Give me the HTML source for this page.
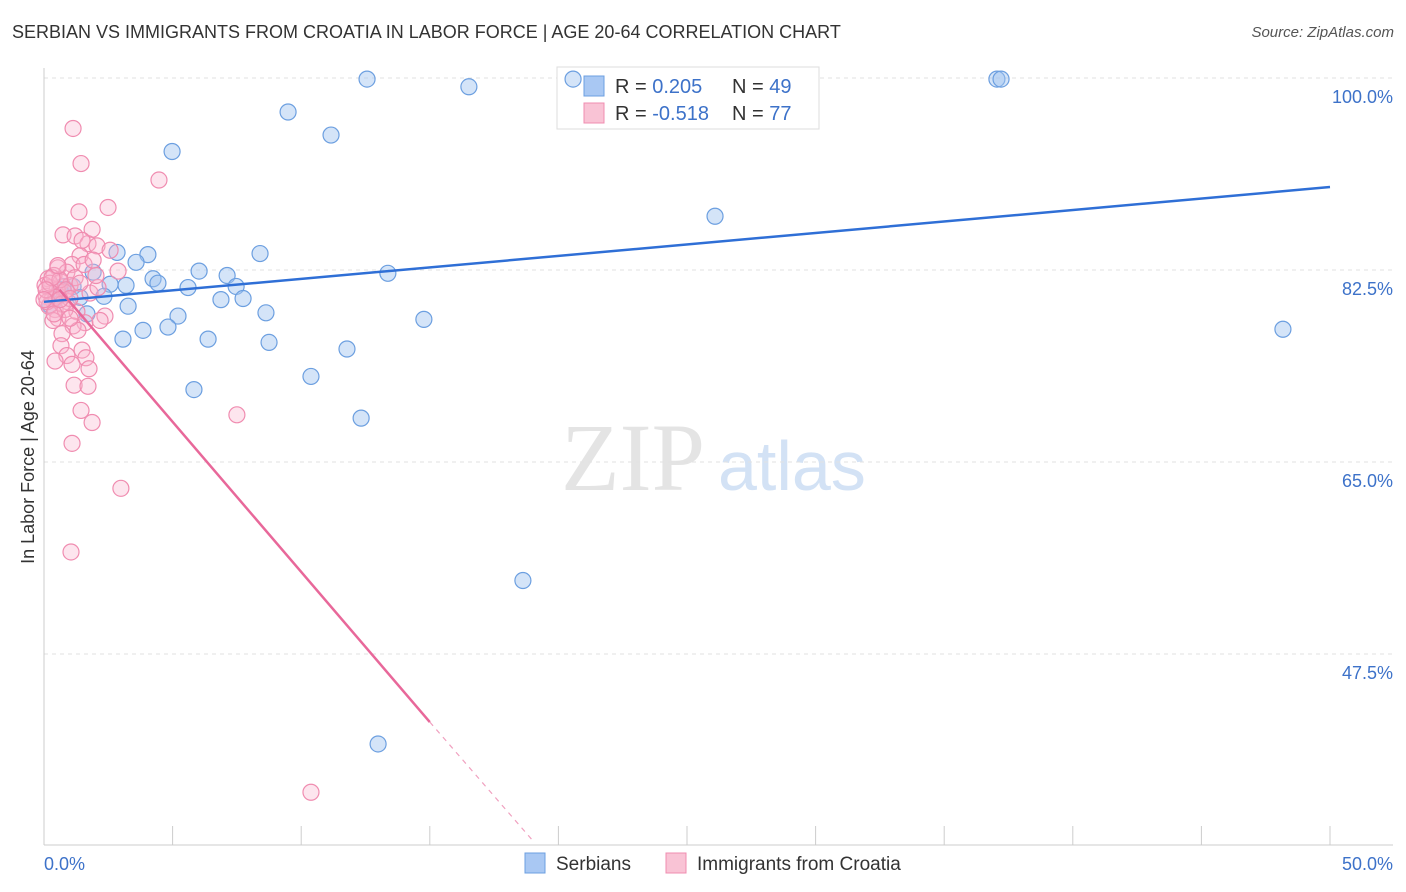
<!DOCTYPE html>
<html><head><meta charset="utf-8">
<style>
body{margin:0;background:#fff;font-family:"Liberation Sans",sans-serif;}
#wrap{position:relative;width:1406px;height:892px;overflow:hidden;}
.t{position:absolute;white-space:nowrap;}
</style></head>
<body>
<div id="wrap">
<div class="t" style="left:12px;top:22px;font-size:18px;color:#333;">SERBIAN VS IMMIGRANTS FROM CROATIA IN LABOR FORCE | AGE 20-64 CORRELATION CHART</div>
<div class="t" style="right:12px;top:24px;font-size:15px;color:#555;font-style:italic;">Source: ZipAtlas.com</div>
<svg id="svg" width="1406" height="892" style="position:absolute;left:0;top:0;"></svg>
</div>
<script>
const yTicks=[100,82.5,65,47.5];
const yTickLabels=["100.0%","82.5%","65.0%","47.5%"];
const xTickVals=[0,5,10,15,20,25,30,35,40,45,50];
const blueX=[12.56,16.52,20.57,37.05,37.21,9.49,11.16,4.98,26.09,2.84,4.04,8.40,3.58,1.91,6.03,13.37,4.24,7.12,4.43,7.47,5.60,2.57,3.19,1.13,0.74,2.33,1.40,6.88,7.74,3.27,8.63,5.21,1.67,14.77,48.17,3.85,4.82,3.07,6.38,8.75,11.78,10.38,5.83,12.33,18.62,12.99,0.43,0.62,0.23];
const blueY=[99.9,99.2,99.9,99.9,99.9,96.9,94.8,93.3,87.4,84.1,83.9,84.0,83.2,82.3,82.4,82.2,81.7,82.0,81.3,81.0,80.9,81.2,81.1,81.0,81.0,80.1,80.0,79.8,79.9,79.2,78.6,78.3,78.5,78.0,77.1,77.0,77.3,76.2,76.2,75.9,75.3,72.8,71.6,69.0,54.2,39.3,79.8,80.7,79.3];
const pinkX=[1.13,1.44,4.47,2.49,1.36,1.87,0.74,1.21,1.71,2.06,1.40,1.09,0.54,2.88,0.89,0.39,0.16,0.66,1.01,0.23,0.51,0.78,0.08,0.31,0.93,0.19,0.43,1.28,2.37,0.54,0.35,1.59,1.13,0.70,1.32,0.66,1.48,0.89,1.63,0.43,1.09,1.75,1.17,1.71,1.44,7.50,1.87,1.09,2.99,1.05,10.38,0.04,0.23,0.62,0.86,0.47,0.12,0.70,1.01,1.79,2.10,1.21,1.40,0.82,2.18,1.56,2.02,2.57,0.31,0.54,0.08,1.01,0.39,1.91,0.62,1.48,0.0];
const pinkY=[95.4,92.2,90.7,88.2,87.8,86.2,85.7,85.6,84.9,84.7,83.8,83.0,82.7,82.4,82.3,82.0,81.7,81.4,81.1,80.9,80.7,80.5,80.1,79.8,79.6,79.2,78.9,78.7,78.3,78.1,77.9,77.7,77.4,76.7,77.0,75.6,75.2,74.7,74.5,74.2,73.9,73.5,72.0,71.9,69.7,69.3,68.6,66.7,62.6,56.8,34.9,81.1,81.3,81.6,80.7,80.0,79.6,79.4,79.9,80.4,80.9,81.8,81.3,78.9,77.9,83.0,82.0,84.3,81.8,82.9,80.7,78.1,78.5,83.4,79.8,85.2,79.8];
const blueTrend=[[0,79.6],[50,90.06]];
const pinkTrend=[[0.6,80.7],[15,41.3]];
const pinkTrendDash=[[15,41.3],[19,30.5]];

const NS="http://www.w3.org/2000/svg";
const svg=document.getElementById('svg');
const X=v=>44+v/50*1286;
const Y=v=>78+(100-v)/17.5*192;
function mk(t,a){const e=document.createElementNS(NS,t);for(const k in a)e.setAttribute(k,a[k]);svg.appendChild(e);return e;}
let w1=mk('text',{x:633,y:490,'font-size':96,'font-family':'Liberation Serif, serif',fill:'#e4e4e4','text-anchor':'middle'});w1.textContent='ZIP';


let w2=mk('text',{x:718,y:490,'font-size':70,'font-family':'Liberation Sans, sans-serif',fill:'#d3e2f5'});w2.textContent='atlas';


yTicks.forEach((v,i)=>{
 let g=mk('line',{x1:44,x2:1393,y1:Y(v),y2:Y(v),stroke:'#e2e2e2','stroke-dasharray':'4,4'});
 
 
 let t=mk('text',{x:1393,y:Y(v)+25,'font-size':18,fill:'#3d72c9','text-anchor':'end'});t.textContent=yTickLabels[i];
 
 
});
let ax=mk('line',{x1:44,x2:44,y1:68,y2:845,stroke:'#ccc'});


let bx=mk('line',{x1:44,x2:1393,y1:845,y2:845,stroke:'#ccc'});


xTickVals.forEach(v=>{let l=mk('line',{x1:X(v),x2:X(v),y1:826,y2:845,stroke:'#ccc'});
 
 });
let xl0=mk('text',{x:44,y:870,'font-size':18,fill:'#3d72c9'});xl0.textContent='0.0%';


let xl1=mk('text',{x:1393,y:870,'font-size':18,fill:'#3d72c9','text-anchor':'end'});xl1.textContent='50.0%';


let yt=mk('text',{x:34,y:457,'font-size':18,fill:'#333','text-anchor':'middle',transform:'rotate(-90 34 457)'});yt.textContent='In Labor Force | Age 20-64';


// top legend (drawn before points)
let lb=mk('rect',{x:557,y:67,width:262,height:62,fill:'#fff',stroke:'#ddd'});


[[0,'#a9c8f3','#6c9fe0','0.205','49'],[1,'#f9c3d5','#f08cb0','-0.518','77']].forEach(r=>{
 const y=76+r[0]*27;
 let s=mk('rect',{x:584,y:y,width:20,height:20,fill:r[1],stroke:r[2]});
 
 
 let t=mk('text',{x:615,y:y+17,'font-size':20,fill:'#333'});
 t.innerHTML='R = <tspan fill="#3d72c9"> '+r[3]+'</tspan><tspan x="732">N = </tspan><tspan fill="#3d72c9">'+r[4]+'</tspan>';
 
 
});
blueX.forEach((v,i)=>{let c=mk('circle',{cx:X(v),cy:Y(blueY[i]),r:8,fill:'rgba(160,195,240,0.45)',stroke:'#6c9fe0','stroke-width':1.2});
 
 });
pinkX.forEach((v,i)=>{let c=mk('circle',{cx:X(v),cy:Y(pinkY[i]),r:8,fill:'rgba(248,180,205,0.35)',stroke:'#f08cb0','stroke-width':1.2});
 
 });
let bl=mk('line',{x1:X(blueTrend[0][0]),y1:Y(blueTrend[0][1]),x2:X(blueTrend[1][0]),y2:Y(blueTrend[1][1]),stroke:'#2f6fd6','stroke-width':2.5});


let pl=mk('line',{x1:X(pinkTrend[0][0]),y1:Y(pinkTrend[0][1]),x2:X(pinkTrend[1][0]),y2:Y(pinkTrend[1][1]),stroke:'#e8689a','stroke-width':2.5});


let pd=mk('line',{x1:X(pinkTrendDash[0][0]),y1:Y(pinkTrendDash[0][1]),x2:X(pinkTrendDash[1][0]),y2:Y(pinkTrendDash[1][1]),stroke:'#f0a0bf','stroke-width':1.2,'stroke-dasharray':'5,5'});


[[525,'#a9c8f3','#6c9fe0','Serbians'],[666,'#f9c3d5','#f08cb0','Immigrants from Croatia']].forEach(r=>{
 let s=mk('rect',{x:r[0],y:853,width:20,height:20,fill:r[1],stroke:r[2]});
 
 
 let t=mk('text',{x:r[0]+31,y:870,'font-size':19,fill:'#333'});t.textContent=r[3];
 
 
});
</script>
</body></html>
